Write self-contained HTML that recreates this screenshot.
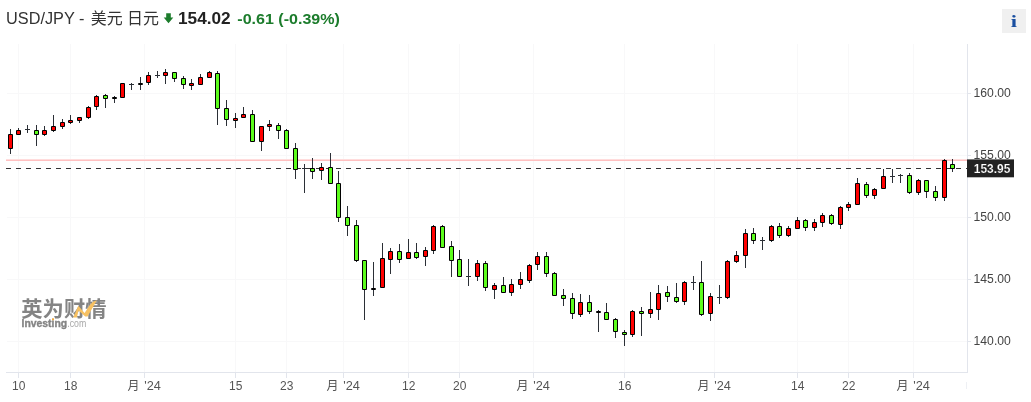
<!DOCTYPE html><html><head><meta charset="utf-8"><title>USD/JPY</title>
<style>html,body{margin:0;padding:0;background:#fff}body{width:1031px;height:402px;overflow:hidden;font-family:"Liberation Sans","Noto Sans CJK SC",sans-serif}svg{display:block;will-change:transform}text{font-family:"Liberation Sans","Noto Sans CJK SC",sans-serif}</style>
</head><body>
<svg width="1031" height="402" viewBox="0 0 1031 402">
<rect width="1031" height="402" fill="#fff"/>
<g shape-rendering="crispEdges">
<rect x="18" y="44" width="1" height="328" fill="#f8f8f9"/>
<rect x="70" y="44" width="1" height="328" fill="#f8f8f9"/>
<rect x="144" y="44" width="1" height="328" fill="#f8f8f9"/>
<rect x="235" y="44" width="1" height="328" fill="#f8f8f9"/>
<rect x="286" y="44" width="1" height="328" fill="#f8f8f9"/>
<rect x="343" y="44" width="1" height="328" fill="#f8f8f9"/>
<rect x="408" y="44" width="1" height="328" fill="#f8f8f9"/>
<rect x="459" y="44" width="1" height="328" fill="#f8f8f9"/>
<rect x="533" y="44" width="1" height="328" fill="#f8f8f9"/>
<rect x="624" y="44" width="1" height="328" fill="#f8f8f9"/>
<rect x="714" y="44" width="1" height="328" fill="#f8f8f9"/>
<rect x="797" y="44" width="1" height="328" fill="#f8f8f9"/>
<rect x="848" y="44" width="1" height="328" fill="#f8f8f9"/>
<rect x="913" y="44" width="1" height="328" fill="#f8f8f9"/>
<rect x="7" y="93" width="960" height="1" fill="#f8f8f9"/>
<rect x="7" y="155" width="960" height="1" fill="#f8f8f9"/>
<rect x="7" y="217" width="960" height="1" fill="#f8f8f9"/>
<rect x="7" y="279" width="960" height="1" fill="#f8f8f9"/>
<rect x="7" y="341" width="960" height="1" fill="#f8f8f9"/>
<rect x="967" y="44" width="1" height="329" fill="#e2e5ec"/>
<rect x="6" y="372" width="962" height="1" fill="#e2e5ec"/>
<rect x="18" y="373" width="1" height="5" fill="#e2e5ec"/>
<rect x="70" y="373" width="1" height="5" fill="#e2e5ec"/>
<rect x="144" y="373" width="1" height="5" fill="#e2e5ec"/>
<rect x="235" y="373" width="1" height="5" fill="#e2e5ec"/>
<rect x="286" y="373" width="1" height="5" fill="#e2e5ec"/>
<rect x="343" y="373" width="1" height="5" fill="#e2e5ec"/>
<rect x="408" y="373" width="1" height="5" fill="#e2e5ec"/>
<rect x="459" y="373" width="1" height="5" fill="#e2e5ec"/>
<rect x="533" y="373" width="1" height="5" fill="#e2e5ec"/>
<rect x="624" y="373" width="1" height="5" fill="#e2e5ec"/>
<rect x="714" y="373" width="1" height="5" fill="#e2e5ec"/>
<rect x="797" y="373" width="1" height="5" fill="#e2e5ec"/>
<rect x="848" y="373" width="1" height="5" fill="#e2e5ec"/>
<rect x="913" y="373" width="1" height="5" fill="#e2e5ec"/>
<rect x="968" y="93" width="3" height="1" fill="#e2e5ec"/>
<rect x="968" y="155" width="3" height="1" fill="#e2e5ec"/>
<rect x="968" y="217" width="3" height="1" fill="#e2e5ec"/>
<rect x="968" y="279" width="3" height="1" fill="#e2e5ec"/>
<rect x="968" y="341" width="3" height="1" fill="#e2e5ec"/>
<rect x="966" y="382" width="1" height="7" fill="#eef0f4"/>
<rect x="6" y="159" width="961" height="1" fill="#ffdcdc"/>
<rect x="6" y="160" width="961" height="1" fill="#ffc0c0"/>
</g>
<line x1="6" y1="168.5" x2="967" y2="168.5" stroke="#333" stroke-width="1" stroke-dasharray="5 5" shape-rendering="crispEdges"/>
<g shape-rendering="crispEdges">
<rect x="10" y="129" width="1" height="25" fill="#2b2f36"/>
<rect x="8" y="134" width="5" height="15" rx="1" ry="1" fill="#000000" shape-rendering="geometricPrecision"/>
<rect x="9" y="135" width="3" height="13" fill="#ff0000"/>
<rect x="18" y="128" width="1" height="7" fill="#2b2f36"/>
<rect x="16" y="130" width="5" height="5" rx="1" ry="1" fill="#000000" shape-rendering="geometricPrecision"/>
<rect x="17" y="131" width="3" height="3" fill="#ff0000"/>
<rect x="27" y="125" width="1" height="8" fill="#2b2f36"/>
<rect x="25" y="129" width="5" height="1" fill="#2b2f36"/>
<rect x="36" y="125" width="1" height="21" fill="#2b2f36"/>
<rect x="34" y="130" width="5" height="5" rx="1" ry="1" fill="#000000" shape-rendering="geometricPrecision"/>
<rect x="35" y="131" width="3" height="3" fill="#5cfc1c"/>
<rect x="44" y="126" width="1" height="10" fill="#2b2f36"/>
<rect x="42" y="130" width="5" height="5" rx="1" ry="1" fill="#000000" shape-rendering="geometricPrecision"/>
<rect x="43" y="131" width="3" height="3" fill="#ff0000"/>
<rect x="53" y="115" width="1" height="17" fill="#2b2f36"/>
<rect x="51" y="126" width="5" height="5" rx="1" ry="1" fill="#000000" shape-rendering="geometricPrecision"/>
<rect x="52" y="127" width="3" height="3" fill="#ff0000"/>
<rect x="62" y="119" width="1" height="10" fill="#2b2f36"/>
<rect x="60" y="122" width="5" height="5" rx="1" ry="1" fill="#000000" shape-rendering="geometricPrecision"/>
<rect x="61" y="123" width="3" height="3" fill="#ff0000"/>
<rect x="70" y="115" width="1" height="9" fill="#2b2f36"/>
<rect x="68" y="120" width="5" height="3" rx="1" ry="1" fill="#000000" shape-rendering="geometricPrecision"/>
<rect x="69" y="121" width="3" height="1" fill="#ff0000"/>
<rect x="79" y="117" width="1" height="6" fill="#2b2f36"/>
<rect x="77" y="117" width="5" height="4" rx="1" ry="1" fill="#000000" shape-rendering="geometricPrecision"/>
<rect x="78" y="118" width="3" height="2" fill="#ff0000"/>
<rect x="88" y="106" width="1" height="13" fill="#2b2f36"/>
<rect x="86" y="107" width="5" height="11" rx="1" ry="1" fill="#000000" shape-rendering="geometricPrecision"/>
<rect x="87" y="108" width="3" height="9" fill="#ff0000"/>
<rect x="96" y="95" width="1" height="15" fill="#2b2f36"/>
<rect x="94" y="96" width="5" height="11" rx="1" ry="1" fill="#000000" shape-rendering="geometricPrecision"/>
<rect x="95" y="97" width="3" height="9" fill="#ff0000"/>
<rect x="105" y="94" width="1" height="14" fill="#2b2f36"/>
<rect x="103" y="95" width="5" height="4" rx="1" ry="1" fill="#000000" shape-rendering="geometricPrecision"/>
<rect x="104" y="96" width="3" height="2" fill="#5cfc1c"/>
<rect x="114" y="96" width="1" height="7" fill="#2b2f36"/>
<rect x="112" y="97" width="5" height="2" rx="1" ry="1" fill="#000000" shape-rendering="geometricPrecision"/>
<rect x="122" y="83" width="1" height="15" fill="#2b2f36"/>
<rect x="120" y="83" width="5" height="15" rx="1" ry="1" fill="#000000" shape-rendering="geometricPrecision"/>
<rect x="121" y="84" width="3" height="13" fill="#ff0000"/>
<rect x="131" y="83" width="1" height="7" fill="#2b2f36"/>
<rect x="129" y="84" width="5" height="1" fill="#2b2f36"/>
<rect x="140" y="77" width="1" height="13" fill="#2b2f36"/>
<rect x="138" y="83" width="5" height="2" rx="1" ry="1" fill="#000000" shape-rendering="geometricPrecision"/>
<rect x="148" y="72" width="1" height="13" fill="#2b2f36"/>
<rect x="146" y="75" width="5" height="8" rx="1" ry="1" fill="#000000" shape-rendering="geometricPrecision"/>
<rect x="147" y="76" width="3" height="6" fill="#ff0000"/>
<rect x="157" y="71" width="1" height="7" fill="#2b2f36"/>
<rect x="155" y="75" width="5" height="1" fill="#2b2f36"/>
<rect x="165" y="69" width="1" height="15" fill="#2b2f36"/>
<rect x="163" y="72" width="5" height="4" rx="1" ry="1" fill="#000000" shape-rendering="geometricPrecision"/>
<rect x="164" y="73" width="3" height="2" fill="#ff0000"/>
<rect x="174" y="72" width="1" height="10" fill="#2b2f36"/>
<rect x="172" y="72" width="5" height="7" rx="1" ry="1" fill="#000000" shape-rendering="geometricPrecision"/>
<rect x="173" y="73" width="3" height="5" fill="#5cfc1c"/>
<rect x="183" y="76" width="1" height="13" fill="#2b2f36"/>
<rect x="181" y="78" width="5" height="7" rx="1" ry="1" fill="#000000" shape-rendering="geometricPrecision"/>
<rect x="182" y="79" width="3" height="5" fill="#5cfc1c"/>
<rect x="191" y="79" width="1" height="11" fill="#2b2f36"/>
<rect x="189" y="83" width="5" height="3" rx="1" ry="1" fill="#000000" shape-rendering="geometricPrecision"/>
<rect x="190" y="84" width="3" height="1" fill="#ff0000"/>
<rect x="200" y="74" width="1" height="11" fill="#2b2f36"/>
<rect x="198" y="77" width="5" height="8" rx="1" ry="1" fill="#000000" shape-rendering="geometricPrecision"/>
<rect x="199" y="78" width="3" height="6" fill="#ff0000"/>
<rect x="209" y="71" width="1" height="7" fill="#2b2f36"/>
<rect x="207" y="72" width="5" height="6" rx="1" ry="1" fill="#000000" shape-rendering="geometricPrecision"/>
<rect x="208" y="73" width="3" height="4" fill="#ff0000"/>
<rect x="217" y="71" width="1" height="54" fill="#2b2f36"/>
<rect x="215" y="73" width="5" height="36" rx="1" ry="1" fill="#000000" shape-rendering="geometricPrecision"/>
<rect x="216" y="74" width="3" height="34" fill="#5cfc1c"/>
<rect x="226" y="100" width="1" height="26" fill="#2b2f36"/>
<rect x="224" y="108" width="5" height="12" rx="1" ry="1" fill="#000000" shape-rendering="geometricPrecision"/>
<rect x="225" y="109" width="3" height="10" fill="#5cfc1c"/>
<rect x="235" y="113" width="1" height="15" fill="#2b2f36"/>
<rect x="233" y="118" width="5" height="3" rx="1" ry="1" fill="#000000" shape-rendering="geometricPrecision"/>
<rect x="234" y="119" width="3" height="1" fill="#ff0000"/>
<rect x="243" y="107" width="1" height="11" fill="#2b2f36"/>
<rect x="241" y="114" width="5" height="4" rx="1" ry="1" fill="#000000" shape-rendering="geometricPrecision"/>
<rect x="242" y="115" width="3" height="2" fill="#ff0000"/>
<rect x="252" y="110" width="1" height="32" fill="#2b2f36"/>
<rect x="250" y="114" width="5" height="28" rx="1" ry="1" fill="#000000" shape-rendering="geometricPrecision"/>
<rect x="251" y="115" width="3" height="26" fill="#5cfc1c"/>
<rect x="261" y="126" width="1" height="25" fill="#2b2f36"/>
<rect x="259" y="126" width="5" height="16" rx="1" ry="1" fill="#000000" shape-rendering="geometricPrecision"/>
<rect x="260" y="127" width="3" height="14" fill="#ff0000"/>
<rect x="269" y="120" width="1" height="11" fill="#2b2f36"/>
<rect x="267" y="124" width="5" height="3" rx="1" ry="1" fill="#000000" shape-rendering="geometricPrecision"/>
<rect x="268" y="125" width="3" height="1" fill="#ff0000"/>
<rect x="278" y="123" width="1" height="16" fill="#2b2f36"/>
<rect x="276" y="125" width="5" height="6" rx="1" ry="1" fill="#000000" shape-rendering="geometricPrecision"/>
<rect x="277" y="126" width="3" height="4" fill="#5cfc1c"/>
<rect x="286" y="129" width="1" height="20" fill="#2b2f36"/>
<rect x="284" y="130" width="5" height="19" rx="1" ry="1" fill="#000000" shape-rendering="geometricPrecision"/>
<rect x="285" y="131" width="3" height="17" fill="#5cfc1c"/>
<rect x="295" y="143" width="1" height="36" fill="#2b2f36"/>
<rect x="293" y="148" width="5" height="22" rx="1" ry="1" fill="#000000" shape-rendering="geometricPrecision"/>
<rect x="294" y="149" width="3" height="20" fill="#5cfc1c"/>
<rect x="304" y="164" width="1" height="29" fill="#2b2f36"/>
<rect x="302" y="168" width="5" height="1" fill="#2b2f36"/>
<rect x="312" y="158" width="1" height="21" fill="#2b2f36"/>
<rect x="310" y="168" width="5" height="4" rx="1" ry="1" fill="#000000" shape-rendering="geometricPrecision"/>
<rect x="311" y="169" width="3" height="2" fill="#5cfc1c"/>
<rect x="321" y="163" width="1" height="17" fill="#2b2f36"/>
<rect x="319" y="167" width="5" height="4" rx="1" ry="1" fill="#000000" shape-rendering="geometricPrecision"/>
<rect x="320" y="168" width="3" height="2" fill="#ff0000"/>
<rect x="330" y="153" width="1" height="31" fill="#2b2f36"/>
<rect x="328" y="167" width="5" height="17" rx="1" ry="1" fill="#000000" shape-rendering="geometricPrecision"/>
<rect x="329" y="168" width="3" height="15" fill="#5cfc1c"/>
<rect x="338" y="171" width="1" height="51" fill="#2b2f36"/>
<rect x="336" y="183" width="5" height="35" rx="1" ry="1" fill="#000000" shape-rendering="geometricPrecision"/>
<rect x="337" y="184" width="3" height="33" fill="#5cfc1c"/>
<rect x="347" y="206" width="1" height="30" fill="#2b2f36"/>
<rect x="345" y="217" width="5" height="9" rx="1" ry="1" fill="#000000" shape-rendering="geometricPrecision"/>
<rect x="346" y="218" width="3" height="7" fill="#5cfc1c"/>
<rect x="356" y="220" width="1" height="42" fill="#2b2f36"/>
<rect x="354" y="225" width="5" height="36" rx="1" ry="1" fill="#000000" shape-rendering="geometricPrecision"/>
<rect x="355" y="226" width="3" height="34" fill="#5cfc1c"/>
<rect x="364" y="260" width="1" height="60" fill="#2b2f36"/>
<rect x="362" y="260" width="5" height="30" rx="1" ry="1" fill="#000000" shape-rendering="geometricPrecision"/>
<rect x="363" y="261" width="3" height="28" fill="#5cfc1c"/>
<rect x="373" y="262" width="1" height="34" fill="#2b2f36"/>
<rect x="371" y="288" width="5" height="2" rx="1" ry="1" fill="#000000" shape-rendering="geometricPrecision"/>
<rect x="382" y="243" width="1" height="45" fill="#2b2f36"/>
<rect x="380" y="258" width="5" height="30" rx="1" ry="1" fill="#000000" shape-rendering="geometricPrecision"/>
<rect x="381" y="259" width="3" height="28" fill="#ff0000"/>
<rect x="390" y="248" width="1" height="26" fill="#2b2f36"/>
<rect x="388" y="251" width="5" height="9" rx="1" ry="1" fill="#000000" shape-rendering="geometricPrecision"/>
<rect x="389" y="252" width="3" height="7" fill="#ff0000"/>
<rect x="399" y="244" width="1" height="19" fill="#2b2f36"/>
<rect x="397" y="251" width="5" height="9" rx="1" ry="1" fill="#000000" shape-rendering="geometricPrecision"/>
<rect x="398" y="252" width="3" height="7" fill="#5cfc1c"/>
<rect x="408" y="239" width="1" height="20" fill="#2b2f36"/>
<rect x="406" y="252" width="5" height="7" rx="1" ry="1" fill="#000000" shape-rendering="geometricPrecision"/>
<rect x="407" y="253" width="3" height="5" fill="#ff0000"/>
<rect x="416" y="243" width="1" height="16" fill="#2b2f36"/>
<rect x="414" y="252" width="5" height="6" rx="1" ry="1" fill="#000000" shape-rendering="geometricPrecision"/>
<rect x="415" y="253" width="3" height="4" fill="#5cfc1c"/>
<rect x="425" y="247" width="1" height="19" fill="#2b2f36"/>
<rect x="423" y="250" width="5" height="7" rx="1" ry="1" fill="#000000" shape-rendering="geometricPrecision"/>
<rect x="424" y="251" width="3" height="5" fill="#ff0000"/>
<rect x="433" y="225" width="1" height="29" fill="#2b2f36"/>
<rect x="431" y="226" width="5" height="25" rx="1" ry="1" fill="#000000" shape-rendering="geometricPrecision"/>
<rect x="432" y="227" width="3" height="23" fill="#ff0000"/>
<rect x="442" y="225" width="1" height="23" fill="#2b2f36"/>
<rect x="440" y="226" width="5" height="22" rx="1" ry="1" fill="#000000" shape-rendering="geometricPrecision"/>
<rect x="441" y="227" width="3" height="20" fill="#5cfc1c"/>
<rect x="451" y="241" width="1" height="36" fill="#2b2f36"/>
<rect x="449" y="246" width="5" height="15" rx="1" ry="1" fill="#000000" shape-rendering="geometricPrecision"/>
<rect x="450" y="247" width="3" height="13" fill="#5cfc1c"/>
<rect x="459" y="250" width="1" height="27" fill="#2b2f36"/>
<rect x="457" y="259" width="5" height="18" rx="1" ry="1" fill="#000000" shape-rendering="geometricPrecision"/>
<rect x="458" y="260" width="3" height="16" fill="#5cfc1c"/>
<rect x="468" y="259" width="1" height="27" fill="#2b2f36"/>
<rect x="466" y="276" width="5" height="1" fill="#2b2f36"/>
<rect x="477" y="260" width="1" height="21" fill="#2b2f36"/>
<rect x="475" y="263" width="5" height="14" rx="1" ry="1" fill="#000000" shape-rendering="geometricPrecision"/>
<rect x="476" y="264" width="3" height="12" fill="#ff0000"/>
<rect x="485" y="261" width="1" height="30" fill="#2b2f36"/>
<rect x="483" y="263" width="5" height="25" rx="1" ry="1" fill="#000000" shape-rendering="geometricPrecision"/>
<rect x="484" y="264" width="3" height="23" fill="#5cfc1c"/>
<rect x="494" y="283" width="1" height="16" fill="#2b2f36"/>
<rect x="492" y="285" width="5" height="5" rx="1" ry="1" fill="#000000" shape-rendering="geometricPrecision"/>
<rect x="493" y="286" width="3" height="3" fill="#ff0000"/>
<rect x="503" y="277" width="1" height="16" fill="#2b2f36"/>
<rect x="501" y="285" width="5" height="8" rx="1" ry="1" fill="#000000" shape-rendering="geometricPrecision"/>
<rect x="502" y="286" width="3" height="6" fill="#5cfc1c"/>
<rect x="511" y="279" width="1" height="17" fill="#2b2f36"/>
<rect x="509" y="284" width="5" height="9" rx="1" ry="1" fill="#000000" shape-rendering="geometricPrecision"/>
<rect x="510" y="285" width="3" height="7" fill="#ff0000"/>
<rect x="520" y="272" width="1" height="17" fill="#2b2f36"/>
<rect x="518" y="279" width="5" height="6" rx="1" ry="1" fill="#000000" shape-rendering="geometricPrecision"/>
<rect x="519" y="280" width="3" height="4" fill="#ff0000"/>
<rect x="529" y="264" width="1" height="19" fill="#2b2f36"/>
<rect x="527" y="265" width="5" height="16" rx="1" ry="1" fill="#000000" shape-rendering="geometricPrecision"/>
<rect x="528" y="266" width="3" height="14" fill="#ff0000"/>
<rect x="537" y="252" width="1" height="18" fill="#2b2f36"/>
<rect x="535" y="256" width="5" height="9" rx="1" ry="1" fill="#000000" shape-rendering="geometricPrecision"/>
<rect x="536" y="257" width="3" height="7" fill="#ff0000"/>
<rect x="546" y="252" width="1" height="25" fill="#2b2f36"/>
<rect x="544" y="256" width="5" height="18" rx="1" ry="1" fill="#000000" shape-rendering="geometricPrecision"/>
<rect x="545" y="257" width="3" height="16" fill="#5cfc1c"/>
<rect x="554" y="272" width="1" height="24" fill="#2b2f36"/>
<rect x="552" y="273" width="5" height="23" rx="1" ry="1" fill="#000000" shape-rendering="geometricPrecision"/>
<rect x="553" y="274" width="3" height="21" fill="#5cfc1c"/>
<rect x="563" y="289" width="1" height="17" fill="#2b2f36"/>
<rect x="561" y="295" width="5" height="4" rx="1" ry="1" fill="#000000" shape-rendering="geometricPrecision"/>
<rect x="562" y="296" width="3" height="2" fill="#5cfc1c"/>
<rect x="572" y="293" width="1" height="26" fill="#2b2f36"/>
<rect x="570" y="298" width="5" height="16" rx="1" ry="1" fill="#000000" shape-rendering="geometricPrecision"/>
<rect x="571" y="299" width="3" height="14" fill="#5cfc1c"/>
<rect x="580" y="294" width="1" height="23" fill="#2b2f36"/>
<rect x="578" y="302" width="5" height="13" rx="1" ry="1" fill="#000000" shape-rendering="geometricPrecision"/>
<rect x="579" y="303" width="3" height="11" fill="#ff0000"/>
<rect x="589" y="295" width="1" height="19" fill="#2b2f36"/>
<rect x="587" y="302" width="5" height="10" rx="1" ry="1" fill="#000000" shape-rendering="geometricPrecision"/>
<rect x="588" y="303" width="3" height="8" fill="#5cfc1c"/>
<rect x="598" y="310" width="1" height="22" fill="#2b2f36"/>
<rect x="596" y="311" width="5" height="2" rx="1" ry="1" fill="#000000" shape-rendering="geometricPrecision"/>
<rect x="606" y="303" width="1" height="17" fill="#2b2f36"/>
<rect x="604" y="312" width="5" height="8" rx="1" ry="1" fill="#000000" shape-rendering="geometricPrecision"/>
<rect x="605" y="313" width="3" height="6" fill="#5cfc1c"/>
<rect x="615" y="318" width="1" height="20" fill="#2b2f36"/>
<rect x="613" y="319" width="5" height="13" rx="1" ry="1" fill="#000000" shape-rendering="geometricPrecision"/>
<rect x="614" y="320" width="3" height="11" fill="#5cfc1c"/>
<rect x="624" y="330" width="1" height="16" fill="#2b2f36"/>
<rect x="622" y="332" width="5" height="3" rx="1" ry="1" fill="#000000" shape-rendering="geometricPrecision"/>
<rect x="623" y="333" width="3" height="1" fill="#5cfc1c"/>
<rect x="632" y="310" width="1" height="27" fill="#2b2f36"/>
<rect x="630" y="311" width="5" height="24" rx="1" ry="1" fill="#000000" shape-rendering="geometricPrecision"/>
<rect x="631" y="312" width="3" height="22" fill="#ff0000"/>
<rect x="641" y="307" width="1" height="29" fill="#2b2f36"/>
<rect x="639" y="311" width="5" height="3" rx="1" ry="1" fill="#000000" shape-rendering="geometricPrecision"/>
<rect x="640" y="312" width="3" height="1" fill="#5cfc1c"/>
<rect x="650" y="292" width="1" height="26" fill="#2b2f36"/>
<rect x="648" y="309" width="5" height="5" rx="1" ry="1" fill="#000000" shape-rendering="geometricPrecision"/>
<rect x="649" y="310" width="3" height="3" fill="#ff0000"/>
<rect x="658" y="285" width="1" height="35" fill="#2b2f36"/>
<rect x="656" y="293" width="5" height="17" rx="1" ry="1" fill="#000000" shape-rendering="geometricPrecision"/>
<rect x="657" y="294" width="3" height="15" fill="#ff0000"/>
<rect x="667" y="286" width="1" height="16" fill="#2b2f36"/>
<rect x="665" y="292" width="5" height="5" rx="1" ry="1" fill="#000000" shape-rendering="geometricPrecision"/>
<rect x="666" y="293" width="3" height="3" fill="#5cfc1c"/>
<rect x="676" y="283" width="1" height="20" fill="#2b2f36"/>
<rect x="674" y="297" width="5" height="5" rx="1" ry="1" fill="#000000" shape-rendering="geometricPrecision"/>
<rect x="675" y="298" width="3" height="3" fill="#5cfc1c"/>
<rect x="684" y="281" width="1" height="24" fill="#2b2f36"/>
<rect x="682" y="282" width="5" height="20" rx="1" ry="1" fill="#000000" shape-rendering="geometricPrecision"/>
<rect x="683" y="283" width="3" height="18" fill="#ff0000"/>
<rect x="693" y="276" width="1" height="14" fill="#2b2f36"/>
<rect x="691" y="282" width="5" height="1" fill="#2b2f36"/>
<rect x="701" y="261" width="1" height="55" fill="#2b2f36"/>
<rect x="699" y="282" width="5" height="33" rx="1" ry="1" fill="#000000" shape-rendering="geometricPrecision"/>
<rect x="700" y="283" width="3" height="31" fill="#5cfc1c"/>
<rect x="710" y="293" width="1" height="28" fill="#2b2f36"/>
<rect x="708" y="296" width="5" height="18" rx="1" ry="1" fill="#000000" shape-rendering="geometricPrecision"/>
<rect x="709" y="297" width="3" height="16" fill="#ff0000"/>
<rect x="719" y="285" width="1" height="19" fill="#2b2f36"/>
<rect x="717" y="297" width="5" height="1" fill="#2b2f36"/>
<rect x="727" y="260" width="1" height="39" fill="#2b2f36"/>
<rect x="725" y="261" width="5" height="37" rx="1" ry="1" fill="#000000" shape-rendering="geometricPrecision"/>
<rect x="726" y="262" width="3" height="35" fill="#ff0000"/>
<rect x="736" y="251" width="1" height="12" fill="#2b2f36"/>
<rect x="734" y="255" width="5" height="7" rx="1" ry="1" fill="#000000" shape-rendering="geometricPrecision"/>
<rect x="735" y="256" width="3" height="5" fill="#ff0000"/>
<rect x="745" y="229" width="1" height="39" fill="#2b2f36"/>
<rect x="743" y="233" width="5" height="23" rx="1" ry="1" fill="#000000" shape-rendering="geometricPrecision"/>
<rect x="744" y="234" width="3" height="21" fill="#ff0000"/>
<rect x="753" y="228" width="1" height="16" fill="#2b2f36"/>
<rect x="751" y="233" width="5" height="8" rx="1" ry="1" fill="#000000" shape-rendering="geometricPrecision"/>
<rect x="752" y="234" width="3" height="6" fill="#5cfc1c"/>
<rect x="762" y="237" width="1" height="13" fill="#2b2f36"/>
<rect x="760" y="240" width="5" height="1" fill="#2b2f36"/>
<rect x="771" y="225" width="1" height="17" fill="#2b2f36"/>
<rect x="769" y="226" width="5" height="15" rx="1" ry="1" fill="#000000" shape-rendering="geometricPrecision"/>
<rect x="770" y="227" width="3" height="13" fill="#ff0000"/>
<rect x="779" y="223" width="1" height="15" fill="#2b2f36"/>
<rect x="777" y="226" width="5" height="10" rx="1" ry="1" fill="#000000" shape-rendering="geometricPrecision"/>
<rect x="778" y="227" width="3" height="8" fill="#5cfc1c"/>
<rect x="788" y="226" width="1" height="11" fill="#2b2f36"/>
<rect x="786" y="228" width="5" height="8" rx="1" ry="1" fill="#000000" shape-rendering="geometricPrecision"/>
<rect x="787" y="229" width="3" height="6" fill="#ff0000"/>
<rect x="797" y="217" width="1" height="12" fill="#2b2f36"/>
<rect x="795" y="220" width="5" height="9" rx="1" ry="1" fill="#000000" shape-rendering="geometricPrecision"/>
<rect x="796" y="221" width="3" height="7" fill="#ff0000"/>
<rect x="805" y="219" width="1" height="12" fill="#2b2f36"/>
<rect x="803" y="220" width="5" height="8" rx="1" ry="1" fill="#000000" shape-rendering="geometricPrecision"/>
<rect x="804" y="221" width="3" height="6" fill="#5cfc1c"/>
<rect x="814" y="219" width="1" height="12" fill="#2b2f36"/>
<rect x="812" y="222" width="5" height="6" rx="1" ry="1" fill="#000000" shape-rendering="geometricPrecision"/>
<rect x="813" y="223" width="3" height="4" fill="#ff0000"/>
<rect x="822" y="213" width="1" height="14" fill="#2b2f36"/>
<rect x="820" y="215" width="5" height="8" rx="1" ry="1" fill="#000000" shape-rendering="geometricPrecision"/>
<rect x="821" y="216" width="3" height="6" fill="#ff0000"/>
<rect x="831" y="214" width="1" height="11" fill="#2b2f36"/>
<rect x="829" y="215" width="5" height="9" rx="1" ry="1" fill="#000000" shape-rendering="geometricPrecision"/>
<rect x="830" y="216" width="3" height="7" fill="#5cfc1c"/>
<rect x="840" y="206" width="1" height="23" fill="#2b2f36"/>
<rect x="838" y="207" width="5" height="18" rx="1" ry="1" fill="#000000" shape-rendering="geometricPrecision"/>
<rect x="839" y="208" width="3" height="16" fill="#ff0000"/>
<rect x="848" y="202" width="1" height="9" fill="#2b2f36"/>
<rect x="846" y="204" width="5" height="4" rx="1" ry="1" fill="#000000" shape-rendering="geometricPrecision"/>
<rect x="847" y="205" width="3" height="2" fill="#ff0000"/>
<rect x="857" y="178" width="1" height="27" fill="#2b2f36"/>
<rect x="855" y="183" width="5" height="22" rx="1" ry="1" fill="#000000" shape-rendering="geometricPrecision"/>
<rect x="856" y="184" width="3" height="20" fill="#ff0000"/>
<rect x="866" y="182" width="1" height="16" fill="#2b2f36"/>
<rect x="864" y="184" width="5" height="12" rx="1" ry="1" fill="#000000" shape-rendering="geometricPrecision"/>
<rect x="865" y="185" width="3" height="10" fill="#5cfc1c"/>
<rect x="874" y="188" width="1" height="11" fill="#2b2f36"/>
<rect x="872" y="189" width="5" height="7" rx="1" ry="1" fill="#000000" shape-rendering="geometricPrecision"/>
<rect x="873" y="190" width="3" height="5" fill="#ff0000"/>
<rect x="883" y="169" width="1" height="20" fill="#2b2f36"/>
<rect x="881" y="176" width="5" height="13" rx="1" ry="1" fill="#000000" shape-rendering="geometricPrecision"/>
<rect x="882" y="177" width="3" height="11" fill="#ff0000"/>
<rect x="892" y="169" width="1" height="14" fill="#2b2f36"/>
<rect x="890" y="176" width="5" height="1" fill="#2b2f36"/>
<rect x="900" y="174" width="1" height="9" fill="#2b2f36"/>
<rect x="898" y="175" width="5" height="1" fill="#2b2f36"/>
<rect x="909" y="173" width="1" height="21" fill="#2b2f36"/>
<rect x="907" y="175" width="5" height="18" rx="1" ry="1" fill="#000000" shape-rendering="geometricPrecision"/>
<rect x="908" y="176" width="3" height="16" fill="#5cfc1c"/>
<rect x="918" y="179" width="1" height="16" fill="#2b2f36"/>
<rect x="916" y="180" width="5" height="13" rx="1" ry="1" fill="#000000" shape-rendering="geometricPrecision"/>
<rect x="917" y="181" width="3" height="11" fill="#ff0000"/>
<rect x="926" y="180" width="1" height="18" fill="#2b2f36"/>
<rect x="924" y="180" width="5" height="12" rx="1" ry="1" fill="#000000" shape-rendering="geometricPrecision"/>
<rect x="925" y="181" width="3" height="10" fill="#5cfc1c"/>
<rect x="935" y="186" width="1" height="15" fill="#2b2f36"/>
<rect x="933" y="191" width="5" height="7" rx="1" ry="1" fill="#000000" shape-rendering="geometricPrecision"/>
<rect x="934" y="192" width="3" height="5" fill="#5cfc1c"/>
<rect x="944" y="159" width="1" height="42" fill="#2b2f36"/>
<rect x="942" y="160" width="5" height="38" rx="1" ry="1" fill="#000000" shape-rendering="geometricPrecision"/>
<rect x="943" y="161" width="3" height="36" fill="#ff0000"/>
<rect x="952" y="159" width="1" height="13" fill="#2b2f36"/>
<rect x="950" y="164" width="5" height="5" rx="1" ry="1" fill="#000000" shape-rendering="geometricPrecision"/>
<rect x="951" y="165" width="3" height="3" fill="#5cfc1c"/>
</g>
<text x="973.6" y="97.1" font-size="12" fill="#444" textLength="37.2" lengthAdjust="spacingAndGlyphs">160.00</text>
<text x="973.6" y="159.1" font-size="12" fill="#444" textLength="37.2" lengthAdjust="spacingAndGlyphs">155.00</text>
<text x="973.6" y="221.1" font-size="12" fill="#444" textLength="37.2" lengthAdjust="spacingAndGlyphs">150.00</text>
<text x="973.6" y="283.1" font-size="12" fill="#444" textLength="37.2" lengthAdjust="spacingAndGlyphs">145.00</text>
<text x="973.6" y="345.1" font-size="12" fill="#444" textLength="37.2" lengthAdjust="spacingAndGlyphs">140.00</text>
<rect x="967" y="159.4" width="47" height="17.9" fill="#222"/>
<text x="973.8" y="172.8" font-size="12" font-weight="bold" fill="#fff" stroke="#222" stroke-width="0.15" textLength="36.6" lengthAdjust="spacingAndGlyphs">153.95</text>
<text x="18.7" y="390" font-size="12" fill="#555555" text-anchor="middle">10</text>
<text x="70.7" y="390" font-size="12" fill="#555555" text-anchor="middle">18</text>
<text x="235.7" y="390" font-size="12" fill="#555555" text-anchor="middle">15</text>
<text x="286.7" y="390" font-size="12" fill="#555555" text-anchor="middle">23</text>
<text x="408.7" y="390" font-size="12" fill="#555555" text-anchor="middle">12</text>
<text x="459.7" y="390" font-size="12" fill="#555555" text-anchor="middle">20</text>
<text x="624.7" y="390" font-size="12" fill="#555555" text-anchor="middle">16</text>
<text x="797.7" y="390" font-size="12" fill="#555555" text-anchor="middle">14</text>
<text x="848.7" y="390" font-size="12" fill="#555555" text-anchor="middle">22</text>
<text x="127.6" y="390" font-size="12" fill="#555555">月</text>
<text x="144.3" y="390" font-size="12" fill="#555555" textLength="16.6" lengthAdjust="spacingAndGlyphs">'24</text>
<text x="326.6" y="390" font-size="12" fill="#555555">月</text>
<text x="343.3" y="390" font-size="12" fill="#555555" textLength="16.6" lengthAdjust="spacingAndGlyphs">'24</text>
<text x="516.6" y="390" font-size="12" fill="#555555">月</text>
<text x="533.3" y="390" font-size="12" fill="#555555" textLength="16.6" lengthAdjust="spacingAndGlyphs">'24</text>
<text x="697.6" y="390" font-size="12" fill="#555555">月</text>
<text x="714.3" y="390" font-size="12" fill="#555555" textLength="16.6" lengthAdjust="spacingAndGlyphs">'24</text>
<text x="896.6" y="390" font-size="12" fill="#555555">月</text>
<text x="913.3" y="390" font-size="12" fill="#555555" textLength="16.6" lengthAdjust="spacingAndGlyphs">'24</text>
<text x="6.1" y="24.3" font-size="15.6" fill="#333" textLength="78.4" lengthAdjust="spacingAndGlyphs">USD/JPY -</text>
<text x="90.7" y="23.8" font-size="16" fill="#333" textLength="68.3" lengthAdjust="spacingAndGlyphs">美元 日元</text>
<path d="M166.2 13.3h4.6v4.3h2.5l-4.8 5.7l-4.8-5.7h2.5z" fill="#1c7c2c"/>
<text x="178" y="24.3" font-size="16" font-weight="bold" fill="#222" textLength="52.6" lengthAdjust="spacingAndGlyphs">154.02</text>
<text x="237.3" y="24.3" font-size="14" font-weight="bold" fill="#1c7c2c" textLength="102.6" lengthAdjust="spacingAndGlyphs">-0.61 (-0.39%)</text>
<rect x="1002" y="9" width="24" height="24" fill="#f0f0f0"/>
<text x="1010.7" y="27" font-size="17" font-weight="bold" fill="#1a4fa0" textLength="6.3" lengthAdjust="spacingAndGlyphs" style="font-family:'Liberation Serif',serif">i</text>
<text x="21.3" y="316.3" font-size="21" font-weight="bold" fill="#848484" textLength="85.2" lengthAdjust="spacingAndGlyphs">英为财情</text>
<path d="M96.9 300.3L87.6 316.6L85.2 316.6L78.6 310.5L76.9 317.5L73.2 317.5L78.3 305.8L84.6 313L89.6 305.2L93 301.8Z" fill="#f7c162"/>
<text x="21.5" y="326.8" font-size="10.5" font-weight="bold" fill="#848484" stroke="#848484" stroke-width="0.35" textLength="45.6" lengthAdjust="spacingAndGlyphs">Investing</text>
<rect x="52" y="318.4" width="2" height="1.8" fill="#f5a93a"/>
<text x="67.3" y="326.8" font-size="10" fill="#a8a8a8" textLength="19" lengthAdjust="spacingAndGlyphs">.com</text>
</svg></body></html>
